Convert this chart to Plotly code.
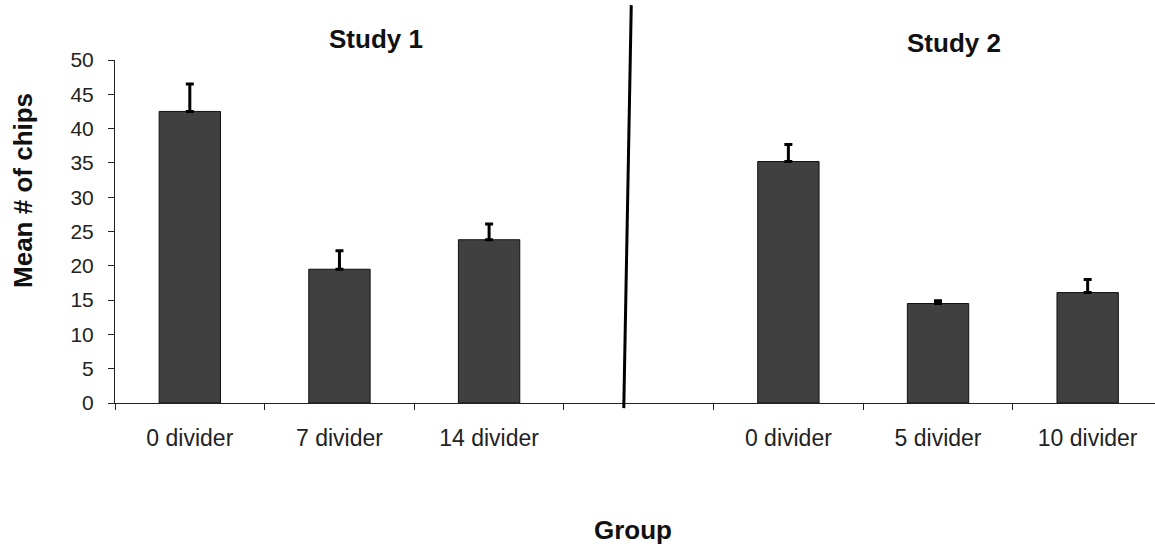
import plotly.graph_objects as go

# Data
categories = ["0 divider", "7 divider", "14 divider", "0 divider", "5 divider", "10 divider"]
positions = [0, 1, 2, 4, 5, 6]
means = [42.5, 19.5, 23.8, 35.2, 14.5, 16.1]
errors = [4.0, 2.7, 2.3, 2.5, 0.4, 1.9]
y_ticks = [0, 5, 10, 15, 20, 25, 30, 35, 40, 45, 50]
boundaries = [-0.5, 0.5, 1.5, 2.5, 3.5, 4.5, 5.5]

FONT = "Liberation Sans, Arial, sans-serif"

fig = go.Figure()
fig.add_trace(go.Bar(
    x=positions, y=means, width=0.41,
    marker=dict(color="#404040", line=dict(color="#111111", width=1)),
    error_y=dict(type="data", symmetric=False, array=errors,
                 arrayminus=[0] * len(errors),
                 color="#000000", thickness=3, width=4),
    showlegend=False,
))

fig.update_layout(
    width=1155, height=544,
    margin=dict(l=115, r=0, t=60, b=141),
    paper_bgcolor="white", plot_bgcolor="white",
    font=dict(family=FONT, color="#222222"),
    xaxis=dict(
        range=[-0.5, 6.45], tickmode="array", tickvals=positions, ticktext=categories,
        ticks="", showline=True, linecolor="#222222", linewidth=1,
        showgrid=False, zeroline=False, tickfont=dict(size=23),
        ticklabelstandoff=14,
        minor=dict(tickmode="array", tickvals=boundaries, ticks="outside",
                   ticklen=6, tickcolor="#222222", tickwidth=1, showgrid=False),
    ),
    yaxis=dict(
        range=[0, 50], tickmode="array", tickvals=y_ticks,
        ticks="outside", ticklen=6, tickcolor="#222222", tickwidth=1,
        showline=True, linecolor="#222222", linewidth=1,
        showgrid=False, zeroline=False, tickfont=dict(size=21),
        ticklabelstandoff=10,
    ),
)

# separator line between studies
fig.add_shape(type="line", xref="x", yref="paper",
              x0=2.90, y0=-0.015, x1=2.95, y1=1.16,
              line=dict(color="#000000", width=3))

annos = [
    dict(text="<b>Study 1</b>", x=0.251, y=1.06, size=26),
    dict(text="<b>Study 2</b>", x=0.807, y=1.05, size=26),
    dict(text="<b>Group</b>", x=0.498, y=-0.37, size=26),
]
for a in annos:
    fig.add_annotation(text=a["text"], xref="paper", yref="paper",
                       x=a["x"], y=a["y"], xanchor="center", yanchor="middle",
                       showarrow=False, font=dict(size=a["size"], family=FONT, color="#111111"))
fig.add_annotation(text="<b>Mean # of chips</b>", xref="paper", yref="paper",
                   x=-0.0885, y=0.621, xanchor="center", yanchor="middle",
                   textangle=-90, showarrow=False,
                   font=dict(size=26, family=FONT, color="#111111"))

fig.write_html("out.html", config={"displayModeBar": False},
               post_script="document.body.style.margin='0';document.body.style.overflow='hidden';")
